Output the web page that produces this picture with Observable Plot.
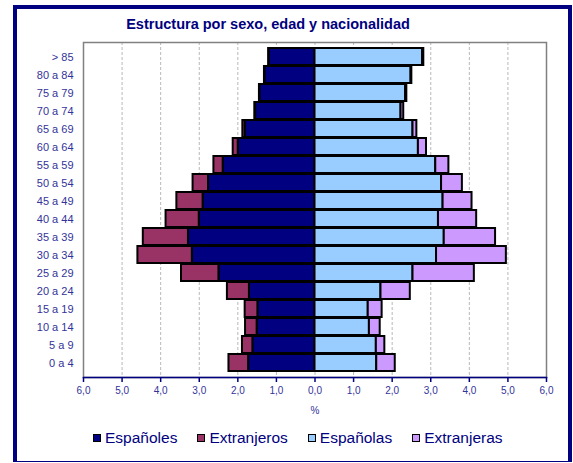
<!DOCTYPE html>
<html><head><meta charset="utf-8">
<script src="https://cdn.jsdelivr.net/npm/d3@7"></script>
<script src="https://cdn.jsdelivr.net/npm/@observablehq/plot@0.6"></script>
<style>
body{margin:0;background:#fff;font-family:"Liberation Sans",Arial,sans-serif;}
#wrap{position:relative;width:573px;height:463px;overflow:hidden;background:#fff;}
#frame{position:absolute;left:13px;top:5px;width:559px;height:457px;border:4.5px solid #000080;border-bottom-width:1.5px;box-sizing:border-box;}
#title{position:absolute;left:0;top:16px;width:536px;text-align:center;font-weight:bold;font-size:14.5px;color:#000080;}
#chart{position:absolute;left:0;top:36px;}
#legend{position:absolute;left:93px;top:429px;display:flex;gap:20px;font-size:15.5px;color:#000080;align-items:center;}
.item{display:flex;align-items:center;gap:4px;}
.sw{width:8px;height:8px;border:1.5px solid #000;box-sizing:border-box;}
</style>
</head><body>
<div id="wrap">
  <div id="frame"></div>
  <div id="title">Estructura por sexo, edad y nacionalidad</div>
  <div id="chart"></div>
  <div id="legend"></div>
</div>
<script>
const ages = ["> 85","80 a 84","75 a 79","70 a 74","65 a 69","60 a 64","55 a 59","50 a 54","45 a 49","40 a 44","35 a 39","30 a 34","25 a 29","20 a 24","15 a 19","10 a 14","5 a 9","0 a 4"];
const espanoles   = [1.19,1.30,1.43,1.54,1.81,1.99,2.38,2.76,2.90,3.00,3.28,3.18,2.49,1.70,1.48,1.50,1.61,1.72];
const extranjeros = [0.01,0.01,0.01,0.02,0.06,0.13,0.24,0.40,0.68,0.86,1.17,1.41,0.97,0.57,0.33,0.30,0.27,0.51];
const espanolas   = [2.79,2.49,2.35,2.23,2.54,2.68,3.13,3.28,3.32,3.20,3.35,3.15,2.54,1.71,1.38,1.41,1.59,1.60];
const extranjeras = [0.03,0.02,0.03,0.07,0.10,0.21,0.34,0.54,0.75,0.99,1.33,1.81,1.59,0.76,0.36,0.28,0.22,0.48];
const xTicks = [-6,-5,-4,-3,-2,-1,0,1,2,3,4,5,6];
const series = ["Españoles","Extranjeros","Españolas","Extranjeras"];
const colors = ["#000080","#993366","#99CCFF","#CC99FF"];

const rows = [];
ages.forEach((a,i)=>{
  rows.push({age:a, s:series[0], x1:0, x2:-espanoles[i]});
  rows.push({age:a, s:series[1], x1:-espanoles[i], x2:-(espanoles[i]+extranjeros[i])});
  rows.push({age:a, s:series[2], x1:0, x2:espanolas[i]});
  rows.push({age:a, s:series[3], x1:espanolas[i], x2:espanolas[i]+extranjeras[i]});
});

const chart = Plot.plot({
  width:573, height:383, marginLeft:83, marginRight:27, marginTop:6, marginBottom:42,
  style:{fontFamily:'"Liberation Sans",Arial,sans-serif', background:"transparent", color:"#333399"},
  x:{domain:[-6,6]},
  y:{domain:ages, paddingInner:0.04, paddingOuter:0.02},
  color:{domain:series, range:colors},
  marks:[
    Plot.gridX(xTicks,{stroke:"#b8b8b8", strokeOpacity:1, strokeDasharray:"3,2"}),
    Plot.frame({stroke:"#808080", strokeWidth:1.5}),
    Plot.barX(rows,{y:"age", x1:"x1", x2:"x2", fill:"s", stroke:"#000", strokeWidth:2}),
    Plot.axisY({tickSize:0, tickPadding:10, fontSize:11, fill:"#333399", label:null}),
    Plot.frame({anchor:"bottom", stroke:"#000080", strokeWidth:1.5}),
    Plot.axisX(xTicks,{tickSize:5, tickPadding:4, fontSize:10, fill:"#333399", stroke:"#000080", strokeWidth:1.5,
      tickFormat:d=>Math.abs(d).toFixed(1).replace(".",","), label:"%", labelAnchor:"center", labelArrow:"none", labelOffset:36})
  ]
});
document.getElementById("chart").appendChild(chart);

const leg = document.getElementById("legend");
series.forEach((s,i)=>{
  const it = document.createElement("div"); it.className="item";
  const sw = document.createElement("div"); sw.className="sw"; sw.style.background=colors[i];
  const t = document.createElement("span"); t.textContent=s;
  it.appendChild(sw); it.appendChild(t); leg.appendChild(it);
});
</script>
</body></html>
